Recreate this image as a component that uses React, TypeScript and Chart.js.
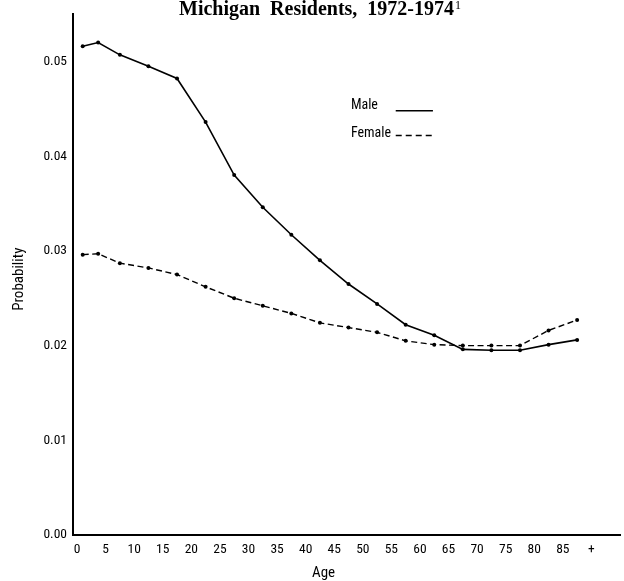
import React, { useEffect, useRef } from "react";
import { Chart, registerables } from "chart.js";

Chart.register(...registerables);

// ---- data ----
const titleText = "Michigan  Residents,  1972-1974";
const titleNote = "1";
const ages = [1, 3.7, 7.5, 12.5, 17.5, 22.5, 27.5, 32.5, 37.5, 42.5, 47.5, 52.5, 57.5, 62.5, 67.5, 72.5, 77.5, 82.5, 87.5];
const maleProb = [0.0516, 0.052, 0.0507, 0.0495, 0.0482, 0.0436, 0.038, 0.0346, 0.0317, 0.029, 0.0265, 0.0244, 0.0222, 0.0211, 0.0196, 0.0195, 0.0195, 0.0201, 0.0206];
const femaleProb = [0.0296, 0.0297, 0.0287, 0.0282, 0.0275, 0.0262, 0.025, 0.0242, 0.0234, 0.0224, 0.0219, 0.0214, 0.0205, 0.0201, 0.02, 0.02, 0.02, 0.0216, 0.0227];
const xTickValues = [0, 5, 10, 15, 20, 25, 30, 35, 40, 45, 50, 55, 60, 65, 70, 75, 80, 85, 90];
const xTickLabels = ["0", "5", "10", "15", "20", "25", "30", "35", "40", "45", "50", "55", "60", "65", "70", "75", "80", "85", "+"];
const yTickValues = [0, 0.01, 0.02, 0.03, 0.04, 0.05];
const seriesNames = ["Male", "Female"];
const xAxisTitle = "Age";
const yAxisTitle = "Probability";

const SANS = "'Roboto Condensed', 'DejaVu Sans Condensed', sans-serif";
const SERIF = "'Liberation Serif', 'DejaVu Serif', serif";

const overlayPlugin = {
  id: "overlay",
  afterDraw(chart: any) {
    const { ctx, chartArea: a } = chart;
    const fx = (f: number) => a.left + f * (a.right - a.left);
    const fy = (f: number) => a.top + f * (a.bottom - a.top);
    ctx.save();
    ctx.fillStyle = "#000";
    ctx.strokeStyle = "#000";

    // title
    ctx.font = `bold 20px ${SERIF}`;
    const w1 = ctx.measureText(titleText).width;
    ctx.font = `12px ${SERIF}`;
    const w2 = ctx.measureText(titleNote).width;
    const cx = 320;
    const x0 = cx - (w1 + w2 + 1) / 2;
    ctx.textAlign = "left";
    ctx.textBaseline = "alphabetic";
    ctx.font = `bold 20px ${SERIF}`;
    ctx.fillText(titleText, x0, 15);
    ctx.font = `12px ${SERIF}`;
    ctx.fillText(titleNote, x0 + w1 + 1, 9);

    // legend
    ctx.font = `14px ${SANS}`;
    ctx.textBaseline = "middle";
    const lx = fx(0.508);
    const lineX1 = fx(0.59);
    const lineX2 = fx(0.658);
    const y1 = fy(0.176);
    const y2 = fy(0.229);
    ctx.fillText(seriesNames[0], lx, y1);
    ctx.fillText(seriesNames[1], lx, y2);
    ctx.lineWidth = 1.5;
    ctx.setLineDash([]);
    ctx.beginPath();
    ctx.moveTo(lineX1, y1 + 5);
    ctx.lineTo(lineX2, y1 + 5);
    ctx.stroke();
    ctx.setLineDash([6, 4]);
    ctx.beginPath();
    ctx.moveTo(lineX1, y2 + 2);
    ctx.lineTo(lineX2, y2 + 2);
    ctx.stroke();
    ctx.setLineDash([]);

    // axis titles
    ctx.textAlign = "center";
    ctx.textBaseline = "middle";
    ctx.font = `15px ${SANS}`;
    ctx.fillText(xAxisTitle, fx(0.458), 573);
    ctx.save();
    ctx.translate(19, fy(0.509));
    ctx.rotate(-Math.PI / 2);
    ctx.fillText(yAxisTitle, 0, 0);
    ctx.restore();

    ctx.restore();
  },
};

export default function App() {
  const ref = useRef<HTMLCanvasElement>(null);
  useEffect(() => {
    document.body.style.margin = "0";
    const canvas = ref.current!;
    const chart = new Chart(canvas, {
      type: "line",
      data: {
        datasets: [
          {
            label: seriesNames[0],
            data: ages.map((a, i) => ({ x: a, y: maleProb[i] })),
            borderColor: "#000",
            backgroundColor: "#000",
            borderWidth: 1.6,
            pointRadius: 2,
            pointBorderWidth: 0,
            pointBackgroundColor: "#000",
            tension: 0,
          },
          {
            label: seriesNames[1],
            data: ages.map((a, i) => ({ x: a, y: femaleProb[i] })),
            borderColor: "#000",
            backgroundColor: "#000",
            borderWidth: 1.4,
            borderDash: [6, 3.5],
            pointRadius: 2,
            pointBorderWidth: 0,
            pointBackgroundColor: "#000",
            tension: 0,
          },
        ],
      },
      options: {
        animation: false,
        responsive: false,
        maintainAspectRatio: false,
        layout: { padding: { top: 10, left: 0, right: 0, bottom: 0 } },
        plugins: {
          legend: { display: false },
          title: { display: false },
          tooltip: { enabled: false },
        },
        scales: {
          x: {
            type: "linear",
            min: -0.7,
            max: 95,
            grid: { display: false, drawTicks: false },
            border: { display: true, color: "#000", width: 2 },
            afterBuildTicks: (s: any) => {
              s.ticks = xTickValues.map((v) => ({ value: v }));
            },
            afterFit: (s: any) => {
              s.height = 46;
            },
            ticks: {
              autoSkip: false,
              maxRotation: 0,
              padding: 7,
              color: "#000",
              font: { family: SANS, size: 13.5 },
              callback: (_v: any, i: number) => xTickLabels[i],
            },
          },
          y: {
            type: "linear",
            min: 0,
            max: 0.055,
            grid: { display: false, drawTicks: false },
            border: { display: true, color: "#000", width: 2 },
            afterBuildTicks: (s: any) => {
              s.ticks = yTickValues.map((v) => ({ value: v }));
            },
            afterFit: (s: any) => {
              s.width = 73;
            },
            ticks: {
              padding: 6,
              color: "#000",
              font: { family: SANS, size: 13.5 },
              callback: (v: any) => Number(v).toFixed(2),
            },
          },
        },
      },
      plugins: [overlayPlugin],
    });
    return () => chart.destroy();
  }, []);
  return <canvas ref={ref} width={624} height={581} style={{ display: "block" }} />;
}
